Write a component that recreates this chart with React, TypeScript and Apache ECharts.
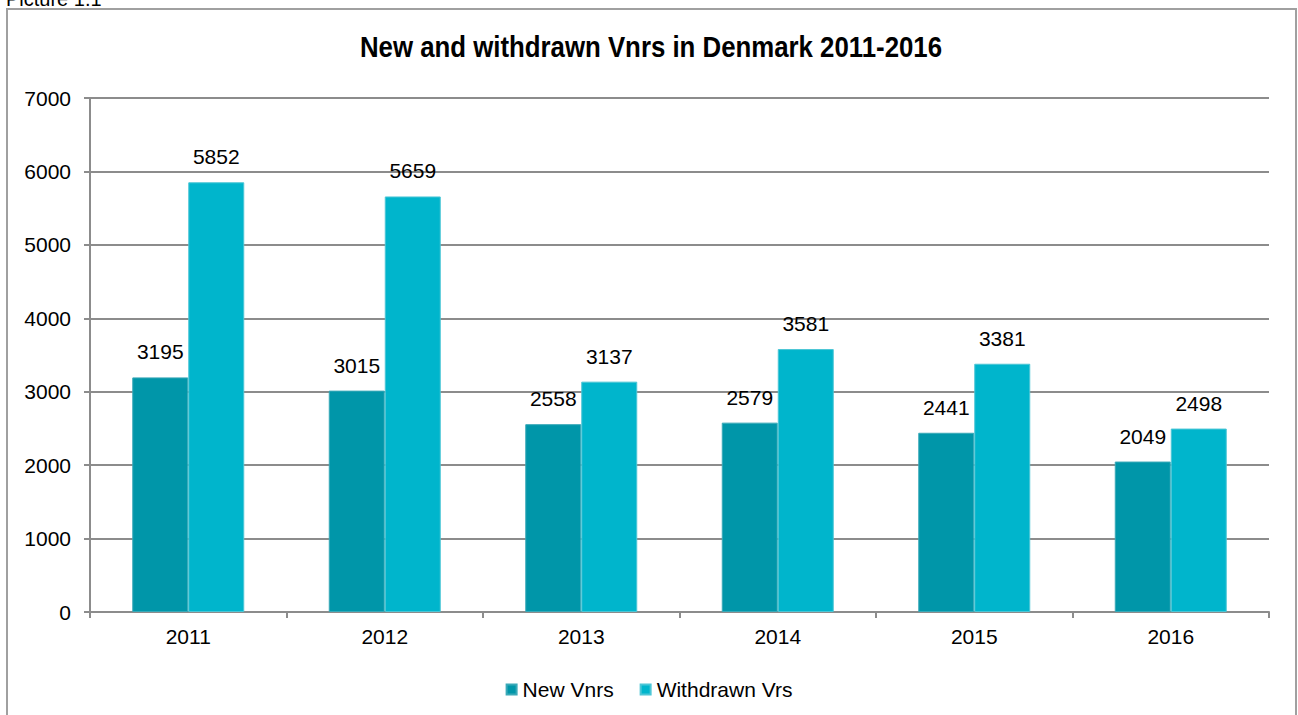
import React, { useEffect, useRef } from "react";
import * as echarts from "echarts";

const years = ["2011", "2012", "2013", "2014", "2015", "2016"];
const newVnrs = [3195, 3015, 2558, 2579, 2441, 2049];
const withdrawnVrs = [5852, 5659, 3137, 3581, 3381, 2498];
const seriesNames = ["New Vnrs", "Withdrawn Vrs"];
const titleText = "New and withdrawn Vnrs in Denmark 2011-2016";
const captionText = "Picture 1.1";

const FONT = "'Liberation Sans', Arial, sans-serif";

export default function App() {
  const ref = useRef<HTMLDivElement>(null);
  useEffect(() => {
    if (!ref.current) return;
    const chart = echarts.init(ref.current, undefined, { renderer: "svg" });
    const labelStyle = {
      show: true,
      position: "top" as const,
      distance: 15,
      color: "#000",
      fontSize: 21,
      fontFamily: FONT,
    };
    chart.setOption({
      animation: false,
      backgroundColor: "#fff",
      graphic: [
        {
          type: "rect",
          shape: { x: 7, y: 9, width: 1289, height: 720 },
          style: { fill: "none", stroke: "#a0a0a0", lineWidth: 2 },
          silent: true,
        },
        {
          type: "text",
          x: 651,
          y: 47,
          scaleX: 0.89,
          style: {
            text: titleText,
            fontSize: 29,
            fontWeight: "bold",
            fontFamily: FONT,
            fill: "#000",
            align: "center",
            verticalAlign: "middle",
          },
          silent: true,
        },
        {
          type: "text",
          left: 6,
          top: -11,
          style: { text: captionText, fontSize: 20, fontFamily: FONT, fill: "#000" },
          silent: true,
        },
      ],
      legend: {
        data: seriesNames,
        left: "center",
        top: 674,
        icon: "rect",
        itemWidth: 10,
        itemHeight: 10,
        itemGap: 26,
        textStyle: { fontFamily: FONT, fontSize: 21, color: "#000", padding: [0, 0, 0, 1] },
      },
      grid: { left: 90, right: 29, top: 98, bottom: 103, containLabel: false },
      xAxis: {
        type: "category",
        data: years,
        axisLine: { lineStyle: { color: "#8c8c8c", width: 2 } },
        axisTick: { show: true, length: 6, lineStyle: { color: "#8c8c8c", width: 2 } },
        axisLabel: { fontFamily: FONT, fontSize: 21, color: "#000", margin: 14 },
      },
      yAxis: {
        type: "value",
        min: 0,
        max: 7000,
        interval: 1000,
        axisLine: { show: true, lineStyle: { color: "#8c8c8c", width: 2 } },
        axisTick: { show: true, length: 6, lineStyle: { color: "#8c8c8c", width: 2 } },
        axisLabel: {
          fontFamily: FONT,
          fontSize: 21,
          color: "#000",
          margin: 19,
          formatter: (v: number) => String(v),
        },
        splitLine: { lineStyle: { color: "#8c8c8c", width: 2 } },
      },
      series: [
        {
          name: seriesNames[0],
          type: "bar",
          data: newVnrs,
          barWidth: 56,
          barGap: "0%",
          itemStyle: { color: "#0096A9", borderColor: "#3aa9b8", borderWidth: 1 },
          label: labelStyle,
        },
        {
          name: seriesNames[1],
          type: "bar",
          data: withdrawnVrs,
          barWidth: 56,
          barGap: "0%",
          itemStyle: { color: "#00B5CC", borderColor: "#4cc6d6", borderWidth: 1 },
          label: labelStyle,
        },
      ],
    });
    return () => chart.dispose();
  }, []);
  return <div ref={ref} style={{ width: 1298, height: 715, position: "absolute", left: 0, top: 0 }} />;
}
